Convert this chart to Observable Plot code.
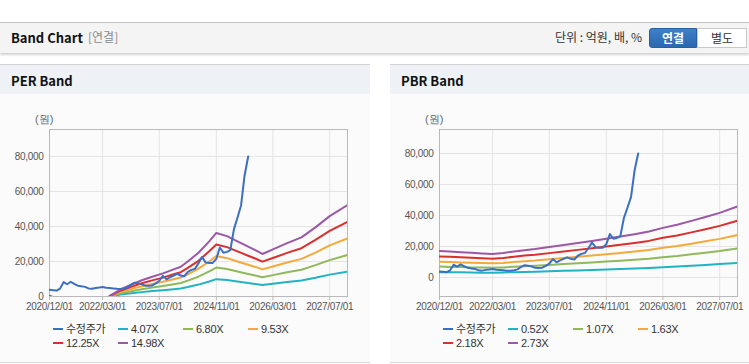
<!DOCTYPE html>
<html><head><meta charset="utf-8">
<script src="https://cdn.jsdelivr.net/npm/d3@7"></script>
<script src="https://cdn.jsdelivr.net/npm/@observablehq/plot@0.6"></script>
<style>
body{margin:0;background:#fff;}
#root{position:relative;width:749px;height:364px;overflow:hidden;background:#fff;font-family:"Noto Sans CJK KR","Liberation Sans",sans-serif;}
.abs{position:absolute;}
#hdr{left:0;top:22px;width:749px;height:30px;background:#f4f4f4;border-top:1px solid #c4c4c4;box-shadow:0 2px 2px rgba(0,0,0,0.18);}
.ttl{font-weight:bold;font-size:13px;color:#111;line-height:1;}
.panel{top:64px;height:297px;background:#fbfbfb;border-top:1px solid #d2d2d2;border-bottom:1px solid #d9d9d9;}
.phead{position:absolute;left:0;top:0;right:0;height:29px;background:#eef2f7;}
.chart{position:absolute;top:36px;}
.chart svg text{letter-spacing:-0.3px;}
.unit{font-family:"Liberation Sans",Arial,sans-serif;font-size:11px;color:#666;}
.leg{position:absolute;font-family:"Liberation Sans","Noto Sans CJK KR",sans-serif;font-size:11px;color:#333;letter-spacing:-0.3px;line-height:1;white-space:nowrap;}
.leg i{display:inline-block;width:10px;height:2.5px;vertical-align:middle;margin-right:3px;position:relative;top:-1px;}
</style></head>
<body>
<div id="root">
  <div id="hdr" class="abs">
    <span class="abs ttl" style="left:11px;top:8px;">Band Chart</span>
    <span class="abs" style="left:88px;top:8px;font-size:12px;color:#8a8a8a;line-height:1;">[연결]</span>
    <span class="abs" style="right:107px;top:8px;font-size:12px;color:#333;line-height:1;">단위 : 억원, 배, %</span>
    <div class="abs" style="left:649px;top:5px;width:48px;height:20px;background:linear-gradient(#3f80c8,#2a68b0);border:1px solid #2a5f9e;border-radius:3px 0 0 3px;box-sizing:border-box;color:#fff;font-weight:bold;font-size:12px;text-align:center;line-height:18px;">연결</div>
    <div class="abs" style="left:697px;top:5px;width:50px;height:20px;background:#fff;border:1px solid #c9c9c9;box-sizing:border-box;color:#333;font-size:12px;text-align:center;line-height:18px;">별도</div>
  </div>
  <div class="abs panel" style="left:0;width:370px;">
    <div class="phead"><span class="abs ttl" style="left:11px;top:9px;">PER Band</span></div>
    <div class="abs unit" style="left:35px;top:47px;">(원)</div>
    <div id="perChart" class="chart" style="left:0;"></div>
    <div id="perLeg"></div>
  </div>
  <div class="abs panel" style="left:390px;width:359px;">
    <div class="phead"><span class="abs ttl" style="left:11px;top:9px;">PBR Band</span></div>
    <div class="abs unit" style="left:35px;top:47px;">(원)</div>
    <div id="pbrChart" class="chart" style="left:0;"></div>
    <div id="pbrLeg"></div>
  </div>
</div>
<script>
// ---- shared axes ----
const xTickDates = ["2020-12-01","2022-03-01","2023-07-01","2024-11-01","2026-03-01","2027-07-01"];
const xDomain = ["2020-12-01","2027-12-01"];
const yTicks = [0,20000,40000,60000,80000];

// ---- adjusted price (수정주가), monthly ----
const priceDates = ["2020-12-01","2021-01-01","2021-02-01","2021-03-01","2021-04-01","2021-05-01","2021-06-01","2021-07-01","2021-08-01","2021-09-01","2021-10-01","2021-11-01","2021-12-01",
"2022-01-01","2022-02-01","2022-03-01","2022-04-01","2022-05-01","2022-06-01","2022-07-01","2022-08-01","2022-09-01","2022-10-01","2022-11-01","2022-12-01",
"2023-01-01","2023-02-01","2023-03-01","2023-04-01","2023-05-01","2023-06-01","2023-07-01","2023-08-01","2023-09-01","2023-10-01","2023-11-01","2023-12-01",
"2024-01-01","2024-02-01","2024-03-01","2024-04-01","2024-05-01","2024-06-01","2024-07-01","2024-08-01","2024-09-01","2024-10-01","2024-11-01","2024-12-01",
"2025-01-01","2025-02-01","2025-03-01","2025-04-01","2025-05-01","2025-06-01","2025-07-01","2025-08-01"];
const priceValues = [3800,3600,3400,4500,8200,7000,8400,7200,6200,5800,5500,4600,4400,
4900,5100,5400,5000,4800,4600,4400,4300,4600,5200,6800,7900,
7500,7000,6200,6100,6300,7500,9000,11800,9800,11000,12000,13000,
12000,11600,14000,15200,15800,19000,22500,19500,19200,19200,21500,28000,
25000,25500,26500,38500,45000,52000,69000,80000];

// ---- PER band ----
const perLabels = ["4.07X","6.80X","9.53X","12.25X","14.98X"];
const perDates = ["2022-05-01","2022-08-01","2022-11-01","2023-02-01","2023-05-01","2023-08-01","2023-11-01","2024-01-01","2024-03-01","2024-06-01","2024-09-01","2024-11-01",
"2025-02-01","2025-05-01","2025-08-01","2025-10-01","2025-12-01","2026-03-01","2026-07-01","2026-11-01","2027-03-01","2027-07-01","2027-12-01"];
const per407  = [100,1100,1800,2500,3100,3600,4200,4600,5400,6800,8600,9900,9400,8600,7700,7200,6600,7300,8300,9200,10700,12500,14200];
const per680  = [100,1800,3000,4200,5100,6000,7000,7700,9100,11300,14300,16500,15700,14300,12900,12000,11000,12200,13800,15300,17900,20800,23700];
const per953  = [200,2500,4300,5900,7200,8400,9900,10800,12700,15900,20000,23100,21900,20000,18100,16900,15500,17100,19400,21500,25100,29200,33200];
const per1225 = [200,3300,5500,7600,9200,10800,12700,13900,16400,20400,25800,29700,28200,25800,23300,21700,19900,22000,24900,27600,32300,37500,42700];
const per1498 = [300,4000,6700,9300,11300,13200,15500,17000,20000,25000,31500,36300,34500,31500,28500,26500,24300,26900,30500,33800,39500,45900,52200];
const perStubDates = ["2020-12-01","2020-12-20"];
const perStub1498 = [400,0];
const perYDomain = [0,95400];

// ---- PBR band ----
const pbrLabels = ["0.52X","1.07X","1.63X","2.18X","2.73X"];
const pbrDates = ["2020-12-01","2021-03-01","2021-06-01","2021-09-01","2021-12-01","2022-03-01","2022-06-01","2022-09-01","2022-12-01","2023-03-01","2023-07-01","2023-11-01",
"2024-03-01","2024-07-01","2024-11-01","2025-03-01","2025-07-01","2025-11-01","2026-03-01","2026-07-01","2026-11-01","2027-03-01","2027-07-01","2027-12-01"];
const pbr052 = [3400,3300,3300,3200,3100,3100,3200,3400,3500,3700,4000,4300,4500,4800,5100,5400,5700,6100,6600,7000,7500,8000,8600,9400];
const pbr107 = [7000,6800,6700,6500,6400,6200,6500,6900,7200,7500,8100,8600,9100,9700,10300,10800,11400,12100,13100,13900,15000,16000,17100,18800];
const pbr163 = [10200,10000,9700,9500,9300,9100,9400,10000,10500,10900,11800,12500,13300,14100,14900,15800,16700,17700,19100,20300,21800,23300,24900,27400];
const pbr218 = [13600,13300,13000,12700,12400,12100,12600,13400,14100,14600,15700,16800,17800,18800,20000,21100,22300,23600,25600,27100,29100,31100,33300,36600];
const pbr273 = [17000,16700,16300,15900,15500,15200,15800,16800,17600,18300,19700,21000,22300,23600,25000,26400,27900,29600,32000,34000,36500,39000,41700,45800];
const pbrYDomain = [-12300,95500];

const priceLabel = "수정주가";
const priceColor = "#3c6fc3";
const bandColors = ["#22b3c3","#8fb95b","#f4a93c","#d8302e","#9b58a6"];

function rows(dates, values, series){
  return dates.map((d,i)=>({date:new Date(d), value:values[i], series}));
}

function makeChart(opts){
  const {width, marginRight, yDomain, bands, bandDates, bandLabels, extra} = opts;
  const bandMarks = bands.map((vals,k)=>Plot.line(rows(bandDates, vals, bandLabels[k]),
      {x:"date", y:"value", stroke:bandColors[k], strokeWidth:2, clip:true}));
  const extraMarks = (extra||[]).map(e=>Plot.line(rows(e.dates,e.values,e.label),
      {x:"date", y:"value", stroke:bandColors[e.k], strokeWidth:2, clip:true}));
  return Plot.plot({
    width, height:215,
    marginLeft:49, marginRight, marginTop:28, marginBottom:20,
    style:{background:"transparent", fontFamily:"'Liberation Sans', Arial, sans-serif", fontSize:"10px", color:"#555", overflow:"visible"},
    x:{type:"utc", domain:xDomain.map(d=>new Date(d))},
    y:{domain:yDomain},
    marks:[
      Plot.gridX(xTickDates.map(d=>new Date(d)), {stroke:"#e4e4e4", strokeOpacity:1}),
      Plot.gridY(yTicks, {stroke:"#e4e4e4", strokeOpacity:1}),
      Plot.frame({stroke:"#b9b9b9"}),
      ...extraMarks,
      ...bandMarks,
      Plot.line(rows(priceDates, priceValues, priceLabel), {x:"date", y:"value", stroke:priceColor, strokeWidth:2, clip:true}),
      Plot.axisX(xTickDates.map(d=>new Date(d)), {tickFormat:d3.utcFormat("%Y/%m/%d"), tickSize:4, tickPadding:2, stroke:"#b9b9b9", fill:"#555", label:null}),
      Plot.axisY(yTicks, {tickFormat:d3.format(","), tickSize:0, tickPadding:6, fill:"#555", label:null})
    ]
  });
}

document.getElementById("perChart").append(makeChart({
  width:370, marginRight:23, yDomain:perYDomain,
  bands:[per407,per680,per953,per1225,per1498], bandDates:perDates, bandLabels:perLabels,
  extra:[{dates:perStubDates, values:perStub1498, label:"14.98X-stub", k:4}]
}));
document.getElementById("pbrChart").append(makeChart({
  width:359, marginRight:12, yDomain:pbrYDomain,
  bands:[pbr052,pbr107,pbr163,pbr218,pbr273], bandDates:pbrDates, bandLabels:pbrLabels
}));

function legend(id, labels){
  const el = document.getElementById(id);
  const items = [{label:priceLabel,color:priceColor}].concat(labels.map((l,k)=>({label:l,color:bandColors[k]})));
  items.forEach((it,i)=>{
    const col = i%4, row = Math.floor(i/4);
    const d = document.createElement("div");
    d.className="leg";
    d.style.left = (53 + col*65) + "px";
    d.style.top = (259 + row*14) + "px";
    d.innerHTML = `<i style="background:${it.color}"></i>${it.label}`;
    el.append(d);
  });
}
legend("perLeg", perLabels);
legend("pbrLeg", pbrLabels);
</script>
</body></html>
